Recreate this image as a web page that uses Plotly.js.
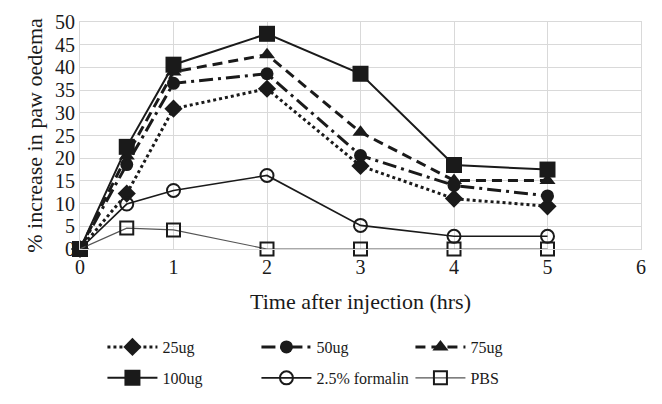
<!DOCTYPE html>
<html><head><meta charset="utf-8">
<script src="https://cdn.plot.ly/plotly-3.0.1.min.js"></script>
<style>html,body{margin:0;padding:0;background:#fff;}#chart{width:662px;height:404px;}</style>
</head><body><div id="chart"></div>
<script>
const times = [0, 0.5, 1, 2, 3, 4, 5];
const seriesNames = ["25ug", "50ug", "75ug", "100ug", "2.5% formalin", "PBS"];
const ug25 = [0, 12.2, 30.9, 35.3, 18.3, 11.1, 9.4];
const ug50 = [0, 18.6, 36.5, 38.6, 20.6, 14.0, 11.7];
const ug75 = [0, 20.5, 39.0, 42.8, 25.7, 15.1, 15.1];
const ug100 = [0, 22.5, 40.6, 47.4, 38.6, 18.5, 17.5];
const formalin = [0, 9.9, 12.9, 16.2, 5.2, 2.8, 2.8];
const pbs = [0, 4.6, 4.2, 0, 0, 0, 0];

const FONT = "Liberation Serif, Times New Roman, serif";
const ink = "#1a1a1a";

function tr(name, y, line, marker, legend) {
  return {x: times, y: y, name: name, type: "scatter", mode: "lines+markers",
    line: line, marker: marker, cliponaxis: false, legend: legend};
}
const data = [
  tr(seriesNames[0], ug25, {color: ink, width: 3, dash: "3px,3px"}, {symbol: "diamond", size: 14, color: ink}, "legend"),
  tr(seriesNames[1], ug50, {color: ink, width: 3, dash: "14px,5px,3px,5px"}, {symbol: "circle", size: 13, color: ink}, "legend"),
  tr(seriesNames[2], ug75, {color: ink, width: 3, dash: "10px,6px"}, {symbol: "triangle-up", size: 14, color: ink}, "legend"),
  tr(seriesNames[3], ug100, {color: ink, width: 2}, {symbol: "square", size: 16, color: ink}, "legend2"),
  tr(seriesNames[4], formalin, {color: ink, width: 1.6}, {symbol: "circle-open", size: 13, color: ink, line: {width: 2, color: ink}}, "legend2"),
  tr(seriesNames[5], pbs, {color: "#555", width: 1.2}, {symbol: "square-open", size: 13, color: ink, line: {width: 2, color: ink}}, "legend2")
];

const legendCommon = {orientation: "h", xanchor: "left", yanchor: "middle", x: 0.04,
  font: {family: FONT, size: 16, color: ink}, entrywidth: 89, entrywidthmode: "pixels",
  bgcolor: "rgba(0,0,0,0)", traceorder: "normal", itemwidth: 50};

const layout = {
  width: 662, height: 404,
  margin: {l: 80, r: 21, t: 22, b: 155, autoexpand: false},
  paper_bgcolor: "#fff", plot_bgcolor: "#fff",
  font: {family: FONT, color: ink},
  showlegend: true,
  xaxis: {range: [0, 6], dtick: 1, tick0: 0, showgrid: true, gridcolor: "#d9d9d9", gridwidth: 1,
    zeroline: false, showline: true, linecolor: "#d9d9d9", mirror: true,
    tickfont: {family: FONT, size: 20, color: ink}, ticks: "",
    title: {text: "Time after injection (hrs)", font: {family: FONT, size: 22, color: ink}, standoff: 16}},
  yaxis: {range: [0, 50], dtick: 5, tick0: 0, showgrid: true, gridcolor: "#d9d9d9", gridwidth: 1,
    zeroline: false, showline: true, linecolor: "#d9d9d9", mirror: true,
    tickfont: {family: FONT, size: 20, color: ink}, ticks: "",
    title: {text: "% increase in paw oedema", font: {family: FONT, size: 22, color: ink}, standoff: 6}},
  legend: Object.assign({}, legendCommon, {y: -0.432}),
  legend2: Object.assign({}, legendCommon, {y: -0.568})
};

Plotly.newPlot("chart", data, layout, {displayModeBar: false, staticPlot: true});
</script></body></html>
